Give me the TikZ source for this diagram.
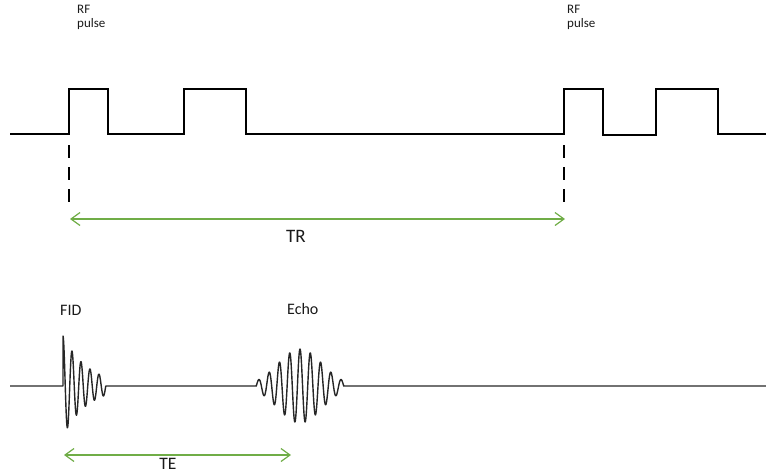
\documentclass[tikz,border=0pt]{standalone}
\usepackage{fontspec}
\setmainfont{Carlito}
\usetikzlibrary{arrows.meta}
\definecolor{ogreen}{HTML}{70AD47}
\definecolor{txt}{HTML}{1A1A1A}
\tikzset{
  sig/.style={line width=2pt, black, line join=miter},
  wave/.style={line width=1.4pt, black!85, line join=round},
  marker/.style={line width=2pt, black, dash pattern=on 13pt off 9pt},
  span/.style={line width=1.2pt, ogreen, {Straight Barb[length=9pt,width=13pt]}-{Straight Barb[length=9pt,width=13pt]}},
  small/.style={inner sep=0pt, anchor=base west, text=txt, font=\fontsize{13}{14}\selectfont, align=left},
  mid/.style={inner sep=0pt, anchor=base west, text=txt, font=\fontsize{16}{18}\selectfont},
  big/.style={inner sep=0pt, anchor=base, text=txt, font=\fontsize{19}{22}\selectfont}
}
\begin{document}
\begin{tikzpicture}[x=1pt,y=-1pt]
\useasboundingbox (0,0) rectangle (766,475);
% pulse train
\coordinate (p1) at (69,134);
\coordinate (p3) at (564,134);
\draw[sig] (10,134) -- (p1) -- (69,89) -- (108,89) -- (108,134) -- (184,134) -- (184,89) -- (246,89) -- (246,134) -- (p3) -- (564,89) -- (603,89) -- (603,135) -- (656,135) -- (656,89) -- (718,89) -- (718,134) -- (766,134);
% RF labels
\node[small] (rf1) at (77,27) {RF\\pulse};
\node[small] (rf2) at (567,27) {RF\\pulse};
% dashed markers
\coordinate (d1a) at (69,145);
\coordinate (d1b) at (69,202);
\coordinate (d2a) at (564,145);
\coordinate (d2b) at (564,202);
\draw[marker] (d1a) -- (d1b);
\draw[marker] (d2a) -- (d2b);
% TR arrow
\coordinate (tra) at (70,219);
\coordinate (trb) at (565,219);
\draw[span] (tra) -- (trb);
\node[big] (tr) at (296,242) {TR};
% signal line with FID and echo
\coordinate (s0) at (10,386);
\coordinate (f0) at (63,386);
\coordinate (e1) at (343.8,386);
\coordinate (s1) at (766,386);
\draw[wave] (s0) -- (f0) -- plot[domain=63:105.75, samples=220, smooth] (\x, {386 - 50*exp(-(\x-63)/25)*cos(360*(\x-63)/9)}) -- (256.2,386)
  -- plot[domain=256.2:343.8, samples=300, smooth] (\x, {386 - 37*exp(-((\x-300)*(\x-300))/(2*22*22))*cos(360*(\x-300)/10.3)}) -- (e1) -- (s1);
\node[mid] (fid) at (60,315) {FID};
\node[mid] (echo) at (287,314) {Echo};
% TE arrow
\coordinate (tea) at (64,455);
\coordinate (teb) at (291,455);
\draw[span] (tea) -- (teb);
\node[big, font=\fontsize{17.5}{20}\selectfont] (te) at (168,469.5) {TE};
\end{tikzpicture}
\end{document}
